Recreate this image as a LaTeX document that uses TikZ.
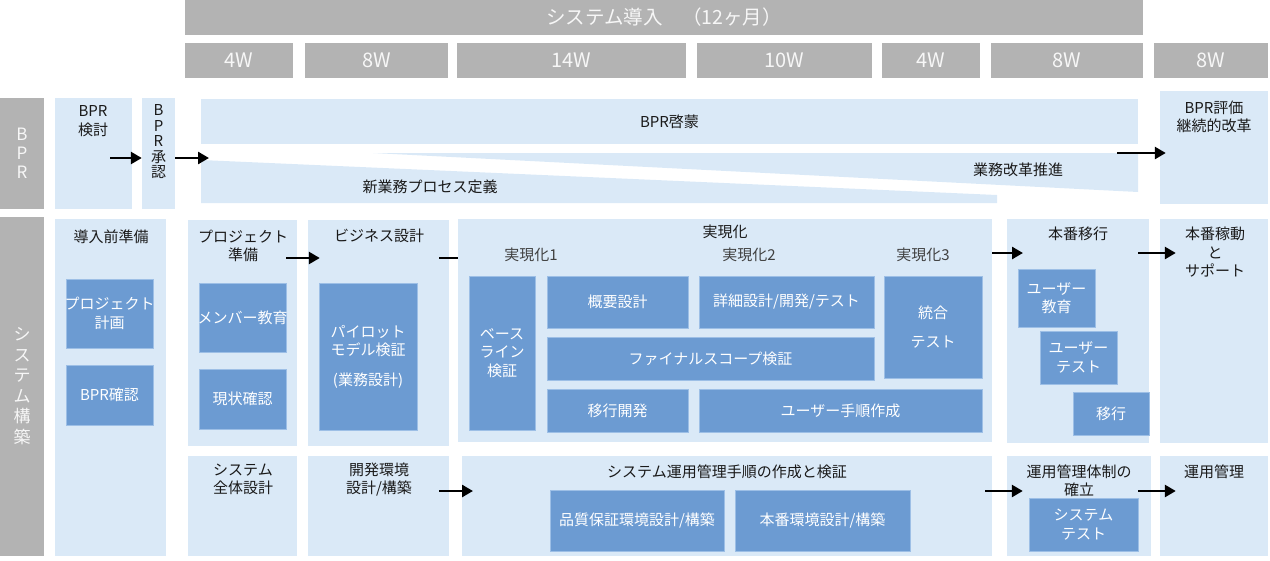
\documentclass[tikz,border=0pt]{standalone}
\usepackage{fontspec}
\setmainfont{Noto Sans CJK JP}
\usetikzlibrary{arrows.meta}
\definecolor{lb}{HTML}{DAE9F7}
\definecolor{mb}{HTML}{6C9BD2}
\definecolor{mbe}{HTML}{9DBFE6}
\definecolor{gr}{HTML}{B3B3B3}
\definecolor{gt}{HTML}{F7F7F7}
\definecolor{tx}{HTML}{1A1A1A}
% name, x1, y1, x2, y2, style
\newcommand\bx[6]{\node[#6,inner sep=0pt,minimum width={#4-#2},minimum height={#5-#3}] (#1) at ({(#2+#4)/2},{(#3+#5)/2}) {};}
% inner blue box with centred text
\newcommand\ib[6]{\bx{#1}{#2}{#3}{#4}{#5}{innerbox}\node[wtxt] (#1t) at (#1.center) {#6};}
% gray week box with centred text
\newcommand\wk[6]{\bx{#1}{#2}{#3}{#4}{#5}{gbar}\node[gtxt] (#1t) at (#1.center) {#6};}
\begin{document}
\begin{tikzpicture}[x=1pt,y=-1pt,
  gbar/.style={fill=gr},
  lbox/.style={fill=lb},
  innerbox/.style={fill=mb,draw=mbe,line width=0.7pt},
  wtxt/.style={text=white,align=center,inner sep=0pt,font=\fontsize{15}{18.5}\selectfont},
  btxt/.style={text=tx,align=center,inner sep=0pt,font=\fontsize{15}{18.5}\selectfont},
  stxt/.style={text=black!75,align=center,inner sep=0pt,font=\fontsize{15}{18.5}\selectfont},
  gtxt/.style={text=gt,align=center,inner sep=0pt,font=\fontsize{20}{22}\selectfont},
  arr/.style={line width=2.6pt,-{Triangle[length=11pt,width=12pt]}},
  plainline/.style={line width=2.6pt},
]
\useasboundingbox (0,0) rectangle (1270,560);

% ---------- header ----------
\bx{top}{185}{0}{1143}{35}{gbar}
\node[gtxt,font=\fontsize{19.5}{22}\selectfont] (topt) at (top.center) {システム導入　（12ヶ月）};
\wk{w1}{185}{43}{293}{78}{4W}
\wk{w2}{305}{43}{448}{78}{8W}
\wk{w3}{457}{43}{686}{78}{14W}
\wk{w4}{697}{43}{872}{78}{10W}
\wk{w5}{882}{43}{980}{78}{4W}
\wk{w6}{991}{43}{1143}{78}{8W}
\wk{w7}{1154}{43}{1268}{78}{8W}

% ---------- row labels ----------
\bx{bprlbl}{0}{98}{44}{209}{gbar}
\node[text=gt,align=center,inner sep=0pt,font=\fontsize{17}{19}\selectfont] (bprlblt) at (bprlbl.center) {B\\P\\R};
\bx{syslbl}{0}{217}{44}{556}{gbar}
\node[text=gt,align=center,inner sep=0pt,font=\fontsize{17}{20.5}\selectfont] (syslblt) at (22,386) {シ\\ス\\テ\\ム\\構\\築};

% ---------- BPR row ----------
\bx{bprk}{55}{98}{132}{209}{lbox}
\node[btxt] (bprkt) at (93,121) {BPR\\検討};
\bx{bprs}{142}{98}{175}{209}{lbox}
\node[btxt,font=\fontsize{15}{15.5}\selectfont] (bprst) at (158.5,142) {B\\P\\R\\承\\認};
\bx{keimo}{201}{99}{1138}{144}{lbox}
\node[btxt] (keimot) at (keimo.center) {BPR啓蒙};
\fill[lb] (201,160) -- (201,203) -- (997,203) -- (997,195) -- cycle;
\node[btxt] (shingyomu) at (430,187) {新業務プロセス定義};
\fill[lb] (373,153) -- (1138,153) -- (1138,192) -- cycle;
\node[btxt] (kaikaku) at (1018,170) {業務改革推進};
\bx{bpreval}{1160}{91}{1268}{204}{lbox}
\node[btxt] (bprevalt) at (1214,117) {BPR評価\\継続的改革};

% ---------- system row: upper ----------
\bx{pre}{55}{219}{166}{556}{lbox}
\node[btxt] (pret) at (111,237) {導入前準備};
\ib{pjplan}{66}{279}{153}{348}{プロジェクト\\計画}
\ib{bprconf}{66}{365}{153}{425}{BPR確認}

\bx{pjprep}{188}{220}{297}{446}{lbox}
\node[btxt] (pjprept) at (243,246) {プロジェクト\\準備};
\ib{member}{199}{283}{286}{352}{メンバー教育}
\ib{genjo}{199}{369}{286}{429}{現状確認}

\bx{biz}{308}{220}{449}{446}{lbox}
\node[btxt] (bizt) at (379,236) {ビジネス設計};
\ib{pilot}{319}{283}{417}{430}{パイロット\\モデル検証\\[11pt](業務設計)}

\bx{jitsu}{458}{219}{992}{442}{lbox}
\node[btxt] (jitsut) at (725,232) {実現化};
\node[stxt] (j1) at (531,255) {実現化1};
\node[stxt] (j2) at (749,255) {実現化2};
\node[stxt] (j3) at (923,255) {実現化3};
\ib{base}{469}{276}{535}{430}{ベース\\ライン\\検証}
\ib{gaiyo}{547}{276}{688}{328}{概要設計}
\ib{shosai}{699}{276}{874}{328}{詳細設計/開発/テスト}
\ib{togo}{884}{276}{982}{378}{統合\\[10pt]テスト}
\ib{final}{547}{337}{874}{380}{ファイナルスコープ検証}
\ib{ikokai}{547}{389}{688}{432}{移行開発}
\ib{utejun}{699}{389}{982}{432}{ユーザー手順作成}

\bx{honban}{1007}{219}{1149}{443}{lbox}
\node[btxt] (honbant) at (1078,234) {本番移行};
\ib{uedu}{1018}{269}{1095}{327}{ユーザー\\教育}
\ib{utest}{1040}{331}{1117}{384}{ユーザー\\テスト}
\ib{iko}{1073}{392}{1149}{435}{移行}

\bx{kado}{1160}{219}{1268}{443}{lbox}
\node[btxt] (kadot) at (1215,252.5) {本番稼動\\と\\サポート};

% ---------- system row: lower ----------
\bx{sysall}{188}{456}{297}{556}{lbox}
\node[btxt] (sysallt) at (243,479.5) {システム\\全体設計};
\bx{devenv}{308}{456}{449}{556}{lbox}
\node[btxt] (devenvt) at (379,479.5) {開発環境\\設計/構築};
\bx{opproc}{462}{456}{992}{556}{lbox}
\node[btxt] (opproct) at (727,472) {システム運用管理手順の作成と検証};
\ib{hinshitsu}{550}{490}{724}{551}{品質保証環境設計/構築}
\ib{honkan}{735}{490}{910}{551}{本番環境設計/構築}
\bx{opsys}{1007}{456}{1151}{556}{lbox}
\node[btxt] (opsyst) at (1079,481) {運用管理体制の\\確立};
\ib{systest}{1029}{498}{1138}{551}{システム\\テスト}
\bx{opmgmt}{1160}{456}{1268}{556}{lbox}
\node[btxt] (opmgmtt) at (1214,472) {運用管理};

% ---------- connectors ----------
\coordinate (a1) at (110,158);
\coordinate (a2) at (175,158);
\coordinate (a2e) at (209,158);
\coordinate (a3) at (1117,153);
\coordinate (a4) at (286,258);
\coordinate (a5) at (439,258);
\coordinate (a6e) at (1023,253);
\coordinate (a7) at (1138,253);
\coordinate (a8) at (439,491);
\coordinate (a8e) at (473,491);
\coordinate (a9) at (985,491);
\coordinate (a10) at (1138,491);

\draw[arr] (a1) -- (a1 -| bprs.west);
\draw[arr] (a2) -- (a2e);
\draw[arr] (a3) -- ([xshift=6pt]a3 -| bpreval.west);
\draw[arr] (a4) -- ([xshift=12pt]a4 -| biz.west);
\draw[plainline] (a5) -- (a5 -| jitsu.west);
\draw[arr] (a6e -| jitsu.east) -- (a6e);
\draw[arr] (a7) -- ([xshift=16pt]a7 -| kado.west);
\draw[arr] (a8) -- (a8e);
\draw[arr] (a9) -- ([xshift=16pt]a9 -| opsys.west);
\draw[arr] (a10) -- ([xshift=16pt]a10 -| opmgmt.west);
\end{tikzpicture}
\end{document}
